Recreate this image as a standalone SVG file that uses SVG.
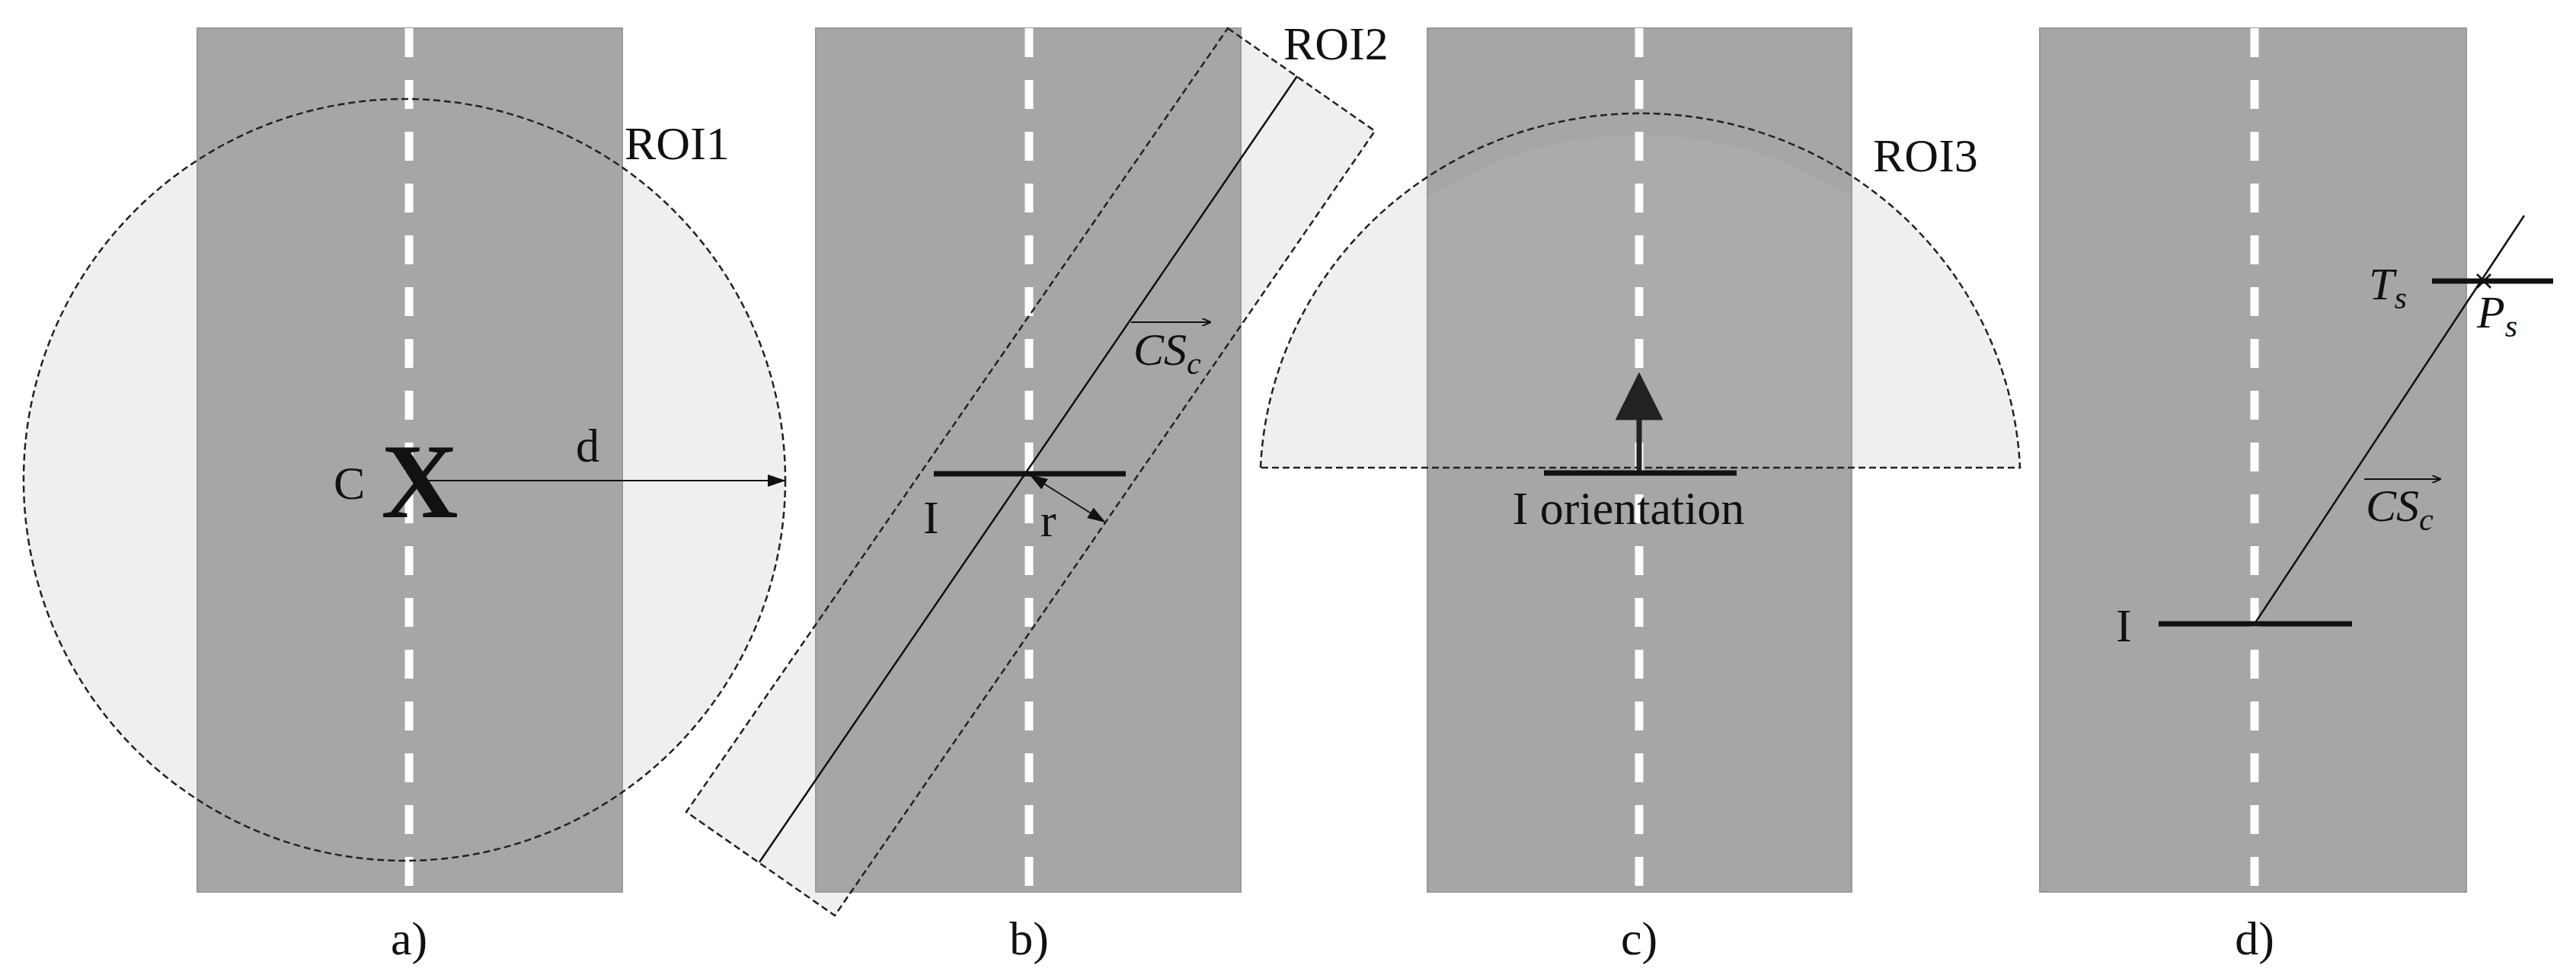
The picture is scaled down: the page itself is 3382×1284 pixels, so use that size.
<svg xmlns="http://www.w3.org/2000/svg" width="3382" height="1284" viewBox="0 0 3382 1284">
<style>
.road{fill:#a6a6a6;stroke:#999;stroke-width:2}
.roi{fill:#efefef;stroke:none}
.roiline{fill:none;stroke:#222;stroke-width:2.5;stroke-dasharray:9 5}
.cl{stroke:#fff;stroke-width:11;stroke-dasharray:38 30}
.t{font-family:"Liberation Serif",serif;font-size:62px;fill:#111}
.it{font-family:"Liberation Serif",serif;font-style:italic;font-size:60px;fill:#111}
.sub{font-size:42px}
.bar{stroke:#111;stroke-width:7}
.thin{stroke:#111;stroke-width:2.5;fill:none}
</style>
<defs>
<marker id="ah" markerWidth="10" markerHeight="8" refX="10" refY="4" orient="auto" markerUnits="userSpaceOnUse" viewBox="0 0 10 8"><path d="M0,0L10,4L0,8z" fill="#111"/></marker>
<marker id="ahb" markerWidth="24" markerHeight="16" refX="22" refY="8" orient="auto-start-reverse" markerUnits="userSpaceOnUse"><path d="M0,0L24,8L0,16z" fill="#111"/></marker>
<marker id="ahs" markerWidth="12" markerHeight="10" refX="12" refY="5" orient="auto" markerUnits="userSpaceOnUse"><path d="M0,0L12,5L0,10" fill="none" stroke="#111" stroke-width="2"/></marker>
<marker id="ahu" markerWidth="9" markerHeight="9" refX="4.5" refY="4.5" orient="auto" markerUnits="strokeWidth"><path d="M0,0L9,4.5L0,9z" fill="#222"/></marker>
</defs>

<g id="panel-a">
<circle class="roi" cx="531" cy="630" r="500"/>
<rect class="road" x="259" y="37" width="558" height="1134"/>
<line class="cl" x1="537" y1="37" x2="537" y2="1165"/>
<circle class="roiline" cx="531" cy="630" r="500"/>
<text class="t" x="820" y="209">ROI1</text>
<text x="551" y="679" text-anchor="middle" font-family="Liberation Serif,serif" font-weight="bold" font-size="140" fill="#111">X</text>
<text class="t" x="438" y="655">C</text>
<text class="t" x="756" y="606">d</text>
<line x1="560" y1="631" x2="1030" y2="631" stroke="#111" stroke-width="2" marker-end="url(#ahb)"/>
<text class="t" x="537" y="1253" text-anchor="middle">a)</text>
</g>

<g id="panel-b">
<polygon class="roi" points="1612,37 1805,172 1096,1202 901,1066"/>
<rect class="road" x="1071" y="37" width="558" height="1134"/>
<line class="cl" x1="1351" y1="37" x2="1351" y2="1165"/>
<polygon class="roiline" points="1612,37 1805,172 1096,1202 901,1066"/>
<line class="thin" x1="1703" y1="100" x2="997" y2="1132"/>
<line class="bar" x1="1226" y1="622" x2="1478" y2="622"/>
<line x1="1353" y1="624" x2="1450" y2="685" stroke="#111" stroke-width="2" marker-start="url(#ahb)" marker-end="url(#ahb)"/>
<text class="t" x="1212" y="700">I</text>
<text class="t" x="1366" y="704">r</text>
<line x1="1485" y1="423" x2="1590" y2="423" stroke="#111" stroke-width="2" marker-end="url(#ahs)"/>
<text class="it" x="1488" y="479">CS<tspan class="sub" dy="12">c</tspan></text>
<text class="t" x="1685" y="78">ROI2</text>
<text class="t" x="1351" y="1253" text-anchor="middle">b)</text>
</g>

<g id="panel-c">
<path class="roi" d="M1655,614 A499,487 0 0 1 2652,614 Z"/>
<rect class="road" x="1874" y="37" width="557" height="1134"/>
<path d="M1874,614 L1874,260 A499,487 0 0 1 2431,260 L2431,614 Z" fill="#fff" opacity="0.06"/>
<line class="cl" x1="2152" y1="37" x2="2152" y2="1165"/>
<path class="roiline" d="M1655,614 A499,487 0 0 1 2652,614 Z"/>
<line class="bar" x1="2027" y1="621" x2="2280" y2="621"/>
<line x1="2152" y1="618" x2="2152" y2="520" stroke="#222" stroke-width="7" marker-end="url(#ahu)"/>
<text class="t" x="2138" y="688" text-anchor="middle">I orientation</text>
<text class="t" x="2459" y="225">ROI3</text>
<text class="t" x="2152" y="1253" text-anchor="middle">c)</text>
</g>

<g id="panel-d">
<rect class="road" x="2678" y="37" width="560" height="1134"/>
<line class="cl" x1="2960" y1="37" x2="2960" y2="1165"/>
<line class="bar" x1="2834" y1="819" x2="3088" y2="819"/>
<line class="bar" x1="3193" y1="369" x2="3352" y2="369"/>
<line class="thin" x1="2960" y1="819" x2="3314" y2="283"/>
<path d="M3252,360 L3270,378 M3270,360 L3252,378" stroke="#111" stroke-width="2.5"/>
<text class="it" x="3110" y="393">T<tspan class="sub" dy="12">s</tspan></text>
<text class="it" x="3252" y="430">P<tspan class="sub" dy="12">s</tspan></text>
<line x1="3104" y1="629" x2="3205" y2="629" stroke="#111" stroke-width="2" marker-end="url(#ahs)"/>
<text class="it" x="3106" y="684">CS<tspan class="sub" dy="12">c</tspan></text>
<text class="t" x="2778" y="842">I</text>
<text class="t" x="2960" y="1253" text-anchor="middle">d)</text>
</g>
</svg>
